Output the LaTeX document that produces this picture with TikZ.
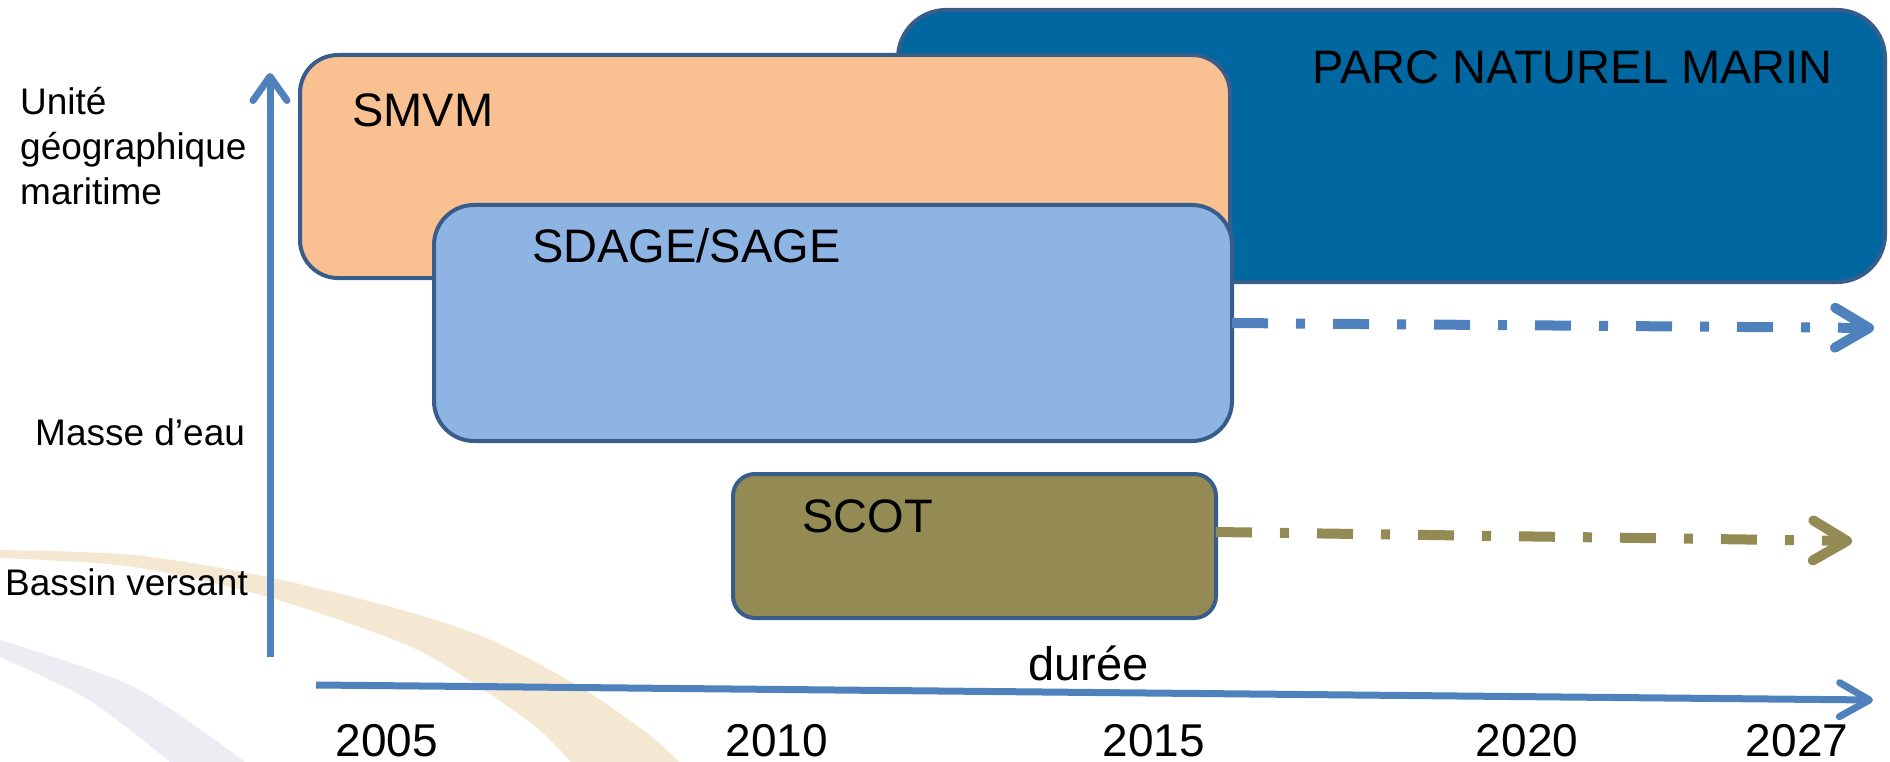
\documentclass[tikz,border=0pt]{standalone}
\usepackage{fontspec}
\setmainfont{Liberation Sans}
\usetikzlibrary{arrows.meta,calc}
\definecolor{parcblue}{RGB}{0,103,160}
\definecolor{smvmfill}{RGB}{249,192,146}
\definecolor{sdagefill}{RGB}{142,180,227}
\definecolor{scotfill}{RGB}{148,138,84}
\definecolor{boxline}{RGB}{56,93,138}
\definecolor{axisblue}{RGB}{79,129,189}
\definecolor{swbeige}{RGB}{244,232,210}
\definecolor{swgrey}{RGB}{236,236,242}
\begin{document}
\begin{tikzpicture}[x=1pt,y=-1pt,
  box/.style={draw=boxline, line width=4pt, inner sep=0pt, outer sep=0pt, rectangle},
  boxlabel/.style={anchor=base west, inner sep=0pt, font=\fontsize{47}{56}\selectfont},
  sidelabel/.style={anchor=base west, inner sep=0pt, font=\fontsize{37}{44}\selectfont},
  yearlabel/.style={anchor=base, inner sep=0pt, font=\fontsize{46}{55}\selectfont},
  axisline/.style={draw=axisblue, line width=7pt, -{Straight Barb[length=24pt,width=34pt,round]}},
  dashline/.style={line width=10pt, dash pattern=on 36pt off 28pt on 9pt off 28pt,
     -{Straight Barb[length=34pt,width=40pt,round]}}
]
\useasboundingbox (0,0) rectangle (1890,762);
% background swoosh
\fill[swgrey] plot[smooth] coordinates {(0,640) (134,687) (245,762)}
  -- plot[smooth] coordinates {(170,762) (89,700) (0,657)} -- cycle;
\fill[swbeige] plot[smooth] coordinates {(0,550) (134,555) (268,577) (402,610) (491,640) (580,687) (647,733) (679,762)}
  -- plot[smooth] coordinates {(571,762) (536,727) (469,680) (402,643) (268,597) (134,567) (0,558)} -- cycle;
% boxes
\node[box, fill=parcblue, rounded corners=48pt, minimum width=987pt, minimum height=272pt] (parc) at (1391.5,146) {};
\node[box, fill=smvmfill, rounded corners=38pt, minimum width=930pt, minimum height=223pt] (smvm) at (765,166.5) {};
\node[box, fill=sdagefill, rounded corners=40pt, minimum width=798pt, minimum height=236pt] (sdage) at (833,323) {};
\node[box, fill=scotfill, rounded corners=22pt, minimum width=483pt, minimum height=144pt] (scot) at (974.5,546) {};
% box labels
\node[boxlabel] (parcl) at (1312,84) {PARC NATUREL MARIN};
\node[boxlabel] (smvml) at (352,127) {SMVM};
\node[boxlabel] (sdagel) at (532,262) {SDAGE/SAGE};
\node[boxlabel] (scotl) at (802,532) {SCOT};
% side labels
\node[sidelabel] (u1) at (20,115) {Unité};
\node[sidelabel] (u2) at (20,160) {géographique};
\node[sidelabel] (u3) at (20,205) {maritime};
\node[sidelabel] (masse) at (35,445) {Masse d’eau};
\node[sidelabel] (bassin) at (5,595) {Bassin versant};
% axes
\coordinate (vstart) at (270,657);
\coordinate (vend) at (270,73);
\coordinate (hstart) at (316,685);
\coordinate (hend) at (1873,700);
\draw[axisline] (vstart) -- (vend);
\draw[axisline, -{Straight Barb[length=30pt,width=34pt,round]}] (hstart) -- (hend);
\node[anchor=base west, inner sep=0pt, font=\fontsize{47}{56}\selectfont] (duree) at (1028,680) {durée};
% years
\node[yearlabel] (y2005) at (387,756) {2005};
\node[yearlabel] (y2010) at (777,756) {2010};
\node[yearlabel] (y2015) at (1154,756) {2015};
\node[yearlabel] (y2020) at (1527,756) {2020};
\node[yearlabel] (y2027) at (1797,756) {2027};
% dash-dot continuation arrows
\coordinate (sdageend) at (1874,328);
\coordinate (scotend) at (1852,541);
\draw[dashline, draw=axisblue] (sdage.east) -- (sdageend);
\draw[dashline, draw=scotfill] ($(scot.east)+(0,-14)$) -- (scotend);
\end{tikzpicture}
\end{document}
